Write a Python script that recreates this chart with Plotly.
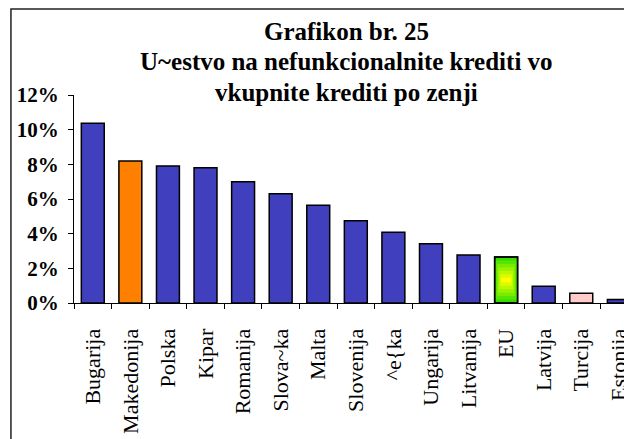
import plotly.graph_objects as go

# Data (share of non-performing loans in total loans)
countries = ["Bugarija", "Makedonija", "Polska", "Kipar", "Romanija", "Slova~ka", "Malta",
             "Slovenija", "^e{ka", "Ungarija", "Litvanija", "EU", "Latvija", "Turcija", "Estonija"]
npl_share = [0.1037, 0.0819, 0.0790, 0.0781, 0.0700, 0.0631, 0.0564,
             0.0475, 0.0408, 0.0342, 0.0277, 0.0265, 0.0096, 0.0056, 0.0020]
y_ticks = [0, 0.02, 0.04, 0.06, 0.08, 0.10, 0.12]
title_lines = ["Grafikon br. 25", "U~estvo na nefunkcionalnite krediti vo", "vkupnite krediti po zenji"]

BLUE = "#4040bf"
special = {"Makedonija": "#ff8000", "Turcija": "#ffcccc", "EU": "#33dd00"}
colors = [special.get(c, BLUE) for c in countries]

SERIF = "Liberation Serif, Times New Roman, serif"
BAR_W = 0.61

fig = go.Figure()
fig.add_trace(go.Bar(
    x=countries, y=npl_share, width=BAR_W,
    marker=dict(color=colors, line=dict(color="black", width=1.5)),
    hovertemplate="%{x}: %{y:.1%}<extra></extra>",
))

# EU bar: fake the green-to-yellow fill with nested bars
eu_val = npl_share[countries.index("EU")]
greens = ["#55e500", "#77ec00", "#99f200", "#bbf700", "#ddfb00", "#ffff00"]
for k, col in enumerate(greens, start=1):
    f = k * 0.075
    fig.add_trace(go.Bar(
        x=["EU"], y=[eu_val * (1 - 2 * f)], base=[eu_val * f],
        width=BAR_W * (1 - 1.3 * f), marker=dict(color=col, line=dict(width=0)),
        hoverinfo="skip",
    ))
fig.add_trace(go.Bar(
    x=["EU"], y=[eu_val], width=BAR_W,
    marker=dict(color="rgba(0,0,0,0)", line=dict(color="black", width=1.5)),
    hoverinfo="skip",
))

# title, one annotation per line
for text, yp in zip(title_lines, [1.303, 1.159, 1.014]):
    fig.add_annotation(
        text=text, xref="paper", yref="paper", x=0.4875, y=yp,
        xanchor="center", yanchor="middle", showarrow=False,
        font=dict(family=SERIF, size=25, color="black", weight="bold"),
    )

# outer frame (cut off on the right and bottom like the source)
fig.add_shape(type="rect", xref="paper", yref="paper",
              x0=-0.113, y0=-0.9, x1=1.1, y1=1.4135,
              line=dict(color="#222", width=1.5))

# page body has an 8px margin, so margins are shifted to compensate
fig.update_layout(
    width=632, height=439,
    margin=dict(l=66, r=8, t=87, b=144),
    paper_bgcolor="white", plot_bgcolor="white",
    barmode="overlay", showlegend=False,
    xaxis=dict(
        type="category", range=[-0.5, 14.35], automargin=False,
        showline=True, linecolor="black", linewidth=1,
        ticks="outside", tickson="boundaries", ticklen=5, tickcolor="black",
        tickangle=-90, ticklabelstandoff=16,
        tickfont=dict(family=SERIF, size=22, color="black"),
        showgrid=False,
    ),
    yaxis=dict(
        range=[0, 0.12], tickvals=y_ticks, tickformat=".0%", automargin=False,
        showline=True, linecolor="black", linewidth=1,
        ticks="outside", ticklen=5, tickcolor="black", ticklabelstandoff=5,
        tickfont=dict(family=SERIF, size=21, color="black", weight="bold"),
        showgrid=False, zeroline=False,
    ),
)

fig.write_html("out.html")
